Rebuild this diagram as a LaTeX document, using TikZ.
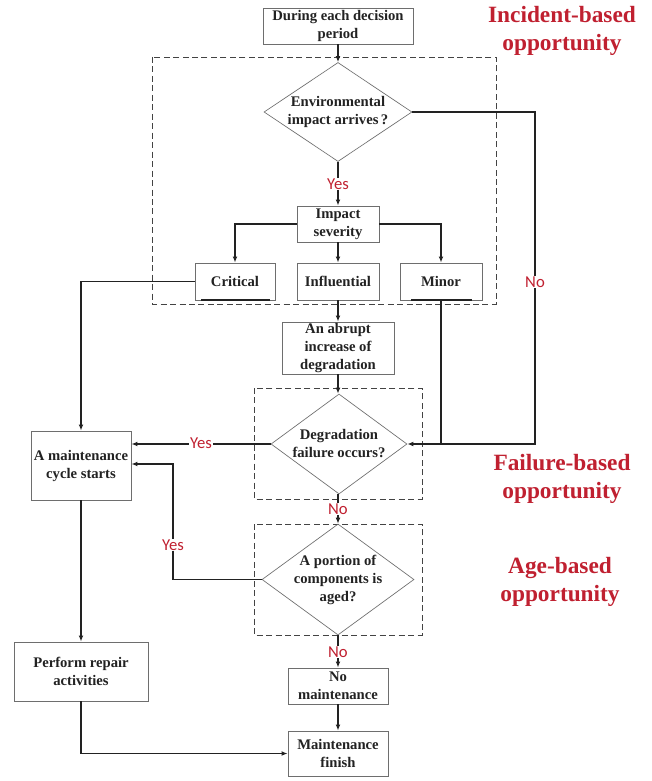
\documentclass[tikz,border=0pt]{standalone}
\usepackage{fontspec}
\setmainfont{Liberation Serif}
\newfontfamily\labfont{Carlito}
\usetikzlibrary{shapes.geometric,arrows.meta}
\definecolor{oppred}{RGB}{192,32,48}
\definecolor{txt}{RGB}{34,34,34}
\definecolor{bord}{RGB}{110,110,110}
\tikzset{
  box/.style={draw=bord,line width=0.6pt,fill=white,text=txt,align=center,inner sep=1pt,
    font=\fontsize{11}{13.5}\selectfont\bfseries},
  dia/.style={diamond,draw=bord,line width=0.5pt,inner sep=0pt},
  diatext/.style={text=txt,align=center,inner sep=0pt,font=\fontsize{11}{13.5}\selectfont\bfseries},
  arr/.style={draw=txt,line width=0.9pt,-{Latex[length=4.5pt,width=3.6pt]}},
  ln/.style={draw=txt,line width=0.9pt},
  dbox/.style={draw=txt!85,line width=0.7pt,dash pattern=on 4.5pt off 2.6pt},
  yn/.style={text=oppred,fill=white,inner sep=0.6pt,font=\labfont\fontsize{12.5}{14}\selectfont},
  opp/.style={text=oppred,align=center,font=\fontsize{17.5}{21.5}\selectfont\bfseries},
}
\begin{document}
\begin{tikzpicture}[x=0.75pt,y=-0.75pt]
\useasboundingbox[fill=white] (0,0) rectangle (652,781);
% dashed regions
\draw[dbox] (152,57) rectangle (496,304);
\draw[dbox] (254,388) rectangle (422,499);
\draw[dbox] (254,524) rectangle (422,635);
% nodes
\node[box,minimum width=112.5pt,minimum height=27pt] (top) at (338,26) {During each decision\\period};
\node[dia,minimum width=111pt,minimum height=74.25pt,
  label={[diatext]center:Environmental\\impact arrives\,?}] (env) at (338,112) {};
\node[box,minimum width=61.5pt,minimum height=27pt] (sev) at (338,224) {Impact\\severity};
\node[box,minimum width=60pt,minimum height=27.75pt] (crit) at (235,281.5) {Critical};
\node[box,minimum width=61.5pt,minimum height=27.75pt] (infl) at (338,281.5) {Influential};
\node[box,minimum width=61.5pt,minimum height=27.75pt] (minor) at (441,281.5) {Minor};
\node[box,minimum width=84pt,minimum height=37.5pt] (abr) at (338,348) {An abrupt\\increase of\\degradation};
\node[dia,minimum width=102pt,minimum height=75pt,
  label={[diatext]center:Degradation\\failure occurs?}] (deg) at (339,444) {};
\node[box,minimum width=75pt,minimum height=51.75pt] (cyc) at (81,465.5) {A maintenance\\cycle starts};
\node[dia,minimum width=114pt,minimum height=83.25pt,
  label={[diatext]center:A portion of\\components is\\aged?}] (age) at (338,579.5) {};
\node[box,minimum width=100.5pt,minimum height=44.25pt] (rep) at (81,671.5) {Perform repair\\activities};
\node[box,minimum width=75pt,minimum height=27pt] (nom) at (338,686) {No\\maintenance};
\node[box,minimum width=75pt,minimum height=33.75pt] (fin) at (338,753.5) {Maintenance\\finish};
% thick underlines
\draw[line width=1.6pt,txt] (201,300) -- (270,300);
\draw[line width=1.6pt,txt] (411,300) -- (472,300);
% opportunity labels
\node[opp] (oi) at (562,31) {Incident-based\\opportunity};
\node[opp] (of) at (562,479) {Failure-based\\opportunity};
\node[opp] (oa) at (560,582) {Age-based\\opportunity};
% connectors
\draw[arr] (top.south) -- (env.north);
\draw[arr] (env.south) -- (sev.north);
\node[yn] (y1) at (338,184) {Yes};
\draw[arr] (sev.west) -| (crit.north);
\draw[arr] (sev.south) -- (infl.north);
\draw[arr] (sev.east) -| (minor.north);
\coordinate (nocorner) at (535,444);
\draw[arr] (env.east) -| (nocorner) -- (deg.east);
\node[yn] (n1) at (535,282) {No};
\draw[ln] (minor.south) -- (minor.south |- deg.east);
\draw[arr] (crit.west) -| (cyc.north);
\draw[arr] (infl.south) -- (abr.north);
\draw[arr] (abr.south) -- (abr.south |- deg.north);
\draw[arr] (deg.west) -- (deg.west -| cyc.east);
\node[yn] (y2) at (201,443) {Yes};
\draw[arr] (deg.south -| age.north) -- (age.north);
\node[yn] (n2) at (338,509) {No};
\coordinate (ycorner) at (173,464);
\draw[arr] (age.west) -| (ycorner) -- (ycorner -| cyc.east);
\node[yn] (y3) at (173,545) {Yes};
\draw[arr] (age.south) -- (nom.north);
\node[yn] (n3) at (338,652) {No};
\draw[arr] (nom.south) -- (fin.north);
\draw[arr] (cyc.south) -- (rep.north);
\draw[arr] (rep.south) |- (fin.west);
\end{tikzpicture}
\end{document}
